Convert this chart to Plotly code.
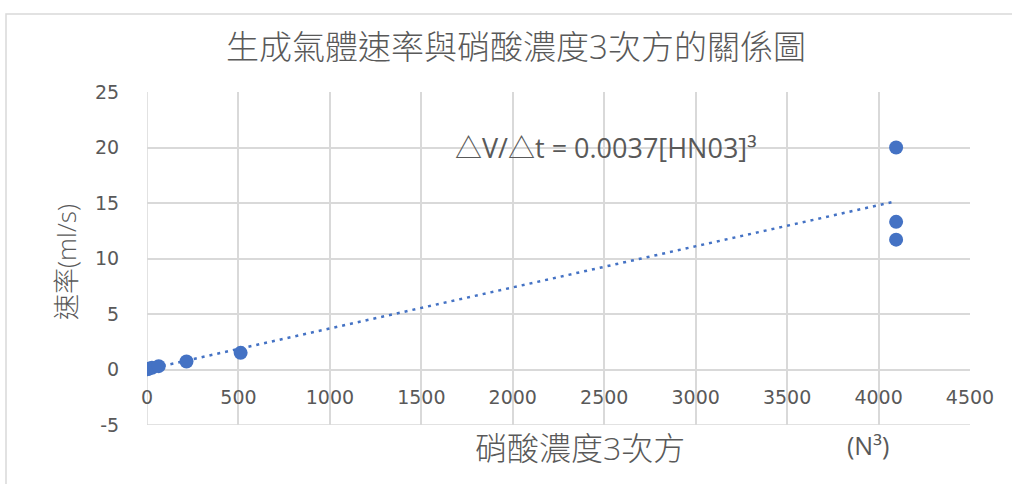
import plotly.graph_objects as go

# HNO3 concentration cubed (N^3) and measured gas generation rate (ml/s)
conc_cubed = [1, 8, 27, 64, 216, 512, 4096, 4096, 4096]
rate = [0.02, 0.06, 0.15, 0.3, 0.72, 1.5, 20.0, 13.3, 11.7]

# Linear trend through origin: rate = k * [HNO3]^3
slope = 0.0037
trend_x = [0, 4096]
trend_y = [slope * v for v in trend_x]

x_ticks = [0, 500, 1000, 1500, 2000, 2500, 3000, 3500, 4000, 4500]
y_ticks = [-5, 0, 5, 10, 15, 20, 25]
y_tick_text = ["-5", "0", "5", "10", "15", "20", "25"]

FONT = "Open Sans, Noto Sans CJK TC, sans-serif"
TICK_FONT = "DejaVu Sans, sans-serif"
GREY = "#595959"
GRID = "#d9d9d9"
BLUE = "#4472C4"

fig = go.Figure()
fig.add_trace(go.Scatter(
    x=trend_x, y=trend_y, mode="lines",
    line=dict(color=BLUE, width=2.5, dash="3px,5px"),
    hoverinfo="skip", showlegend=False,
))
fig.add_trace(go.Scatter(
    x=conc_cubed, y=rate, mode="markers",
    marker=dict(color=BLUE, size=14, line=dict(width=0)),
    showlegend=False,
))

W, H = 1012, 484
L, R, T, B = 147, 42, 92, 59
pw, ph = W - L - R, H - T - B

def px_x(p):
    return (p - L) / pw

def px_y(p):
    return 1 - (p - T) / ph

fig.update_layout(
    width=W, height=H,
    margin=dict(l=L, r=R, t=T, b=B, pad=0),
    paper_bgcolor="white", plot_bgcolor="white",
    font=dict(family=FONT, color=GREY, size=15),
    title=dict(
        text="生成氣體速率與硝酸濃度3次方的關係圖",
        x=px_x(516), xref="paper", xanchor="center",
        y=1 - 47 / H, yanchor="middle",
        font=dict(family=FONT, size=33, color=GREY, weight=300),
    ),
    xaxis=dict(
        range=[0, 4500], tickvals=x_ticks,
        showgrid=True, gridcolor=GRID, gridwidth=1.5,
        zeroline=False, showline=False,
        anchor="free", position=5 / 30,
        ticks="outside", ticklen=11, tickcolor="rgba(0,0,0,0)",
        tickfont=dict(family=TICK_FONT, size=19, color=GREY),
    ),
    yaxis=dict(
        range=[-5, 25], tickvals=y_ticks, ticktext=y_tick_text,
        showgrid=True, gridcolor=GRID, gridwidth=1.5,
        zeroline=True, zerolinecolor=GRID, zerolinewidth=1.5,
        showline=False,
        ticks="outside", ticklen=23, tickcolor="rgba(0,0,0,0)",
        tickfont=dict(family=TICK_FONT, size=19, color=GREY),
    ),
    shapes=[
        # chart frame
        dict(type="rect", xref="paper", yref="paper",
             x0=px_x(6), x1=px_x(1020), y0=px_y(500), y1=px_y(14),
             line=dict(color=GRID, width=1.5), fillcolor="rgba(0,0,0,0)", layer="below"),
        # vertical axis line at x=0
        dict(type="line", xref="x", yref="paper", x0=0, x1=0, y0=0, y1=1,
             line=dict(color=GRID, width=1.5), layer="below"),
        # bottom gridline at y=-5
        dict(type="line", xref="paper", yref="y", x0=0, x1=1, y0=-5, y1=-5,
             line=dict(color=GRID, width=1.5), layer="below"),
    ],
    annotations=[
        dict(text="△V/△t = 0.0037[HN03]³", x=px_x(606), y=20, xref="paper", yref="y",
             showarrow=False, font=dict(family=FONT, size=27, color=GREY),
             xanchor="center", yanchor="middle"),
        dict(text="速率(ml/s)", x=px_x(66), y=px_y(262), xref="paper", yref="paper",
             textangle=-90, showarrow=False,
             font=dict(family=FONT, size=26, color=GREY, weight=300),
             xanchor="center", yanchor="middle"),
        dict(text="硝酸濃度3次方", x=px_x(580), y=px_y(447), xref="paper", yref="paper",
             showarrow=False, font=dict(family=FONT, size=32, color=GREY, weight=300),
             xanchor="center", yanchor="middle"),
        dict(text="(N³)", x=px_x(868), y=px_y(445), xref="paper", yref="paper",
             showarrow=False, font=dict(family=FONT, size=25, color=GREY),
             xanchor="center", yanchor="middle"),
    ],
)

fig.write_html("out.html")
